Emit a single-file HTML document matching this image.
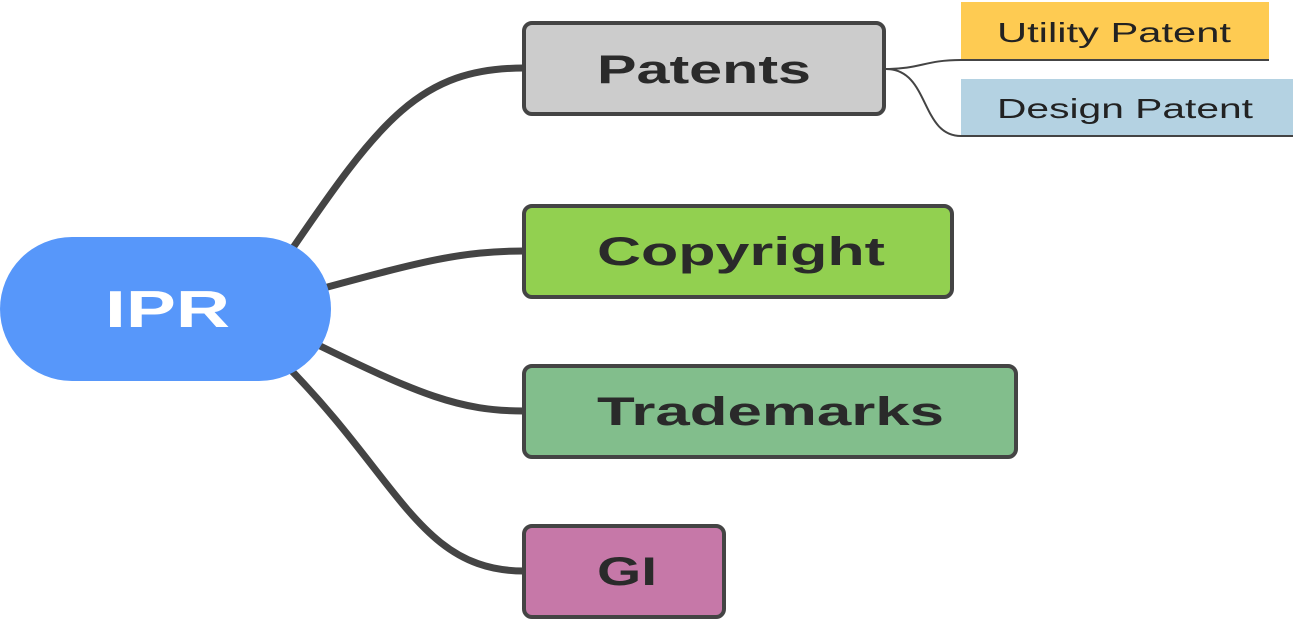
<!DOCTYPE html>
<html><head><meta charset="utf-8"><style>
body{margin:0;background:#fff;width:1296px;height:620px;overflow:hidden}
svg text{font-family:"Liberation Sans",sans-serif}
</style></head><body>
<svg width="1296" height="620" viewBox="0 0 1296 620">
<rect x="961" y="2" width="308" height="58" fill="#fecb52"/>
<rect x="961" y="79" width="332" height="57" fill="#b4d2e2"/>
<g fill="none" stroke="#444" stroke-width="7" stroke-linecap="round">
<path d="M288,255 C380,120 420,68 524,68"/>
<path d="M320,289 C420,262 460,251 524,251"/>
<path d="M312,342 C420,395 460,411 524,411"/>
<path d="M285,364 C400,480 420,571 524,571"/>
</g>
<g fill="none" stroke="#444" stroke-width="2">
<path d="M886,69 C920,69 925,60 961,60 L1269,60"/>
<path d="M886,69 C930,69 920,136 961,136 L1293,136"/>
</g>
<rect x="0" y="237" width="331" height="144" rx="72" fill="#5797fa"/>
<text x="105" y="327" font-size="52" font-weight="bold" fill="#fff" textLength="125" lengthAdjust="spacingAndGlyphs">IPR</text>
<g stroke="#444" stroke-width="4">
<rect x="524" y="23" width="360" height="91" rx="8" fill="#cccccc"/>
<rect x="524" y="206" width="428" height="91" rx="8" fill="#92d050"/>
<rect x="524" y="366" width="492" height="91" rx="8" fill="#82be8c"/>
<rect x="524" y="526" width="200" height="91" rx="8" fill="#c678a8"/>
</g>
<g font-size="40" font-weight="bold" fill="#2a2a2a">
<text x="597" y="83" textLength="214" lengthAdjust="spacingAndGlyphs">Patents</text>
<text x="597" y="265" textLength="288" lengthAdjust="spacingAndGlyphs">Copyright</text>
<text x="597" y="425" textLength="347" lengthAdjust="spacingAndGlyphs">Trademarks</text>
<text x="597" y="585" textLength="60" lengthAdjust="spacingAndGlyphs">GI</text>
</g>
<g font-size="28" fill="#222">
<text x="997" y="42" textLength="234" lengthAdjust="spacingAndGlyphs">Utility Patent</text>
<text x="997" y="118" textLength="256" lengthAdjust="spacingAndGlyphs">Design Patent</text>
</g>
</svg>
</body></html>
